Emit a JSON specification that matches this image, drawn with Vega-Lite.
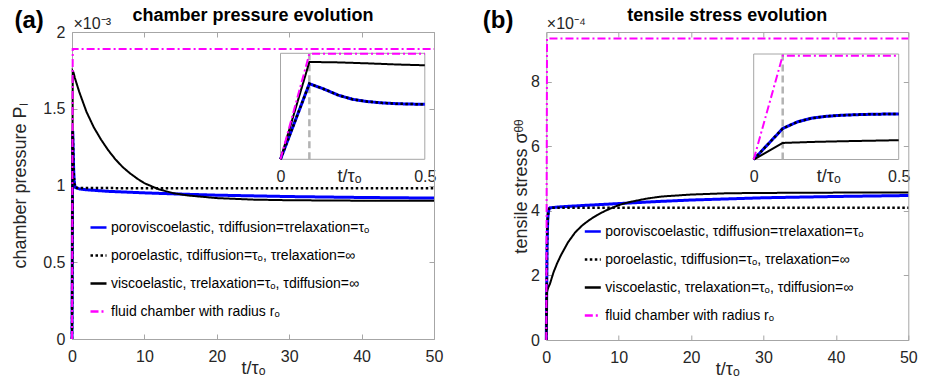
{
  "$schema": "https://vega.github.io/schema/vega-lite/v6.json",
  "padding": {"left": 11, "top": 7, "right": 0, "bottom": 0},
  "background": "white",
  "config": {
    "font": "Liberation Sans",
    "view": {"stroke": null},
    "axis": {
      "grid": false,
      "domainColor": "#a6a6a6",
      "tickColor": "#a6a6a6",
      "tickSize": -5,
      "labelColor": "#262626",
      "labelFontSize": 16,
      "labelFont": "Liberation Sans",
      "titleFont": "Liberation Sans",
      "titleFontWeight": "normal",
      "titleColor": "#262626",
      "titleFontSize": 18,
      "labelFlush": false,
      "labelOverlap": false,
      "format": "~r"
    },
    "legend": {
      "orient": "none",
      "title": null,
      "symbolType": "stroke",
      "symbolSize": 256,
      "symbolStrokeWidth": 2.5,
      "labelFont": "Liberation Sans",
      "labelFontSize": 14,
      "labelColor": "#000000",
      "labelOffset": 3,
      "rowPadding": 11,
      "padding": 0,
      "labelLimit": 500
    },
    "title": {"font": "Liberation Sans", "fontSize": 18, "fontWeight": "bold", "color": "#000000"}
  },
  "datasets": {
    "a": [
      {"s": "pve", "t": 0, "v": 0}, {"s": "pve", "t": 0.1, "v": 1.355}, {"s": "pve", "t": 0.15, "v": 1.26}, {"s": "pve", "t": 0.2, "v": 1.15}, {"s": "pve", "t": 0.25, "v": 1.075}, {"s": "pve", "t": 0.3, "v": 1.035}, {"s": "pve", "t": 0.35, "v": 1.012}, {"s": "pve", "t": 0.4, "v": 0.997}, {"s": "pve", "t": 0.45, "v": 0.99}, {"s": "pve", "t": 0.5, "v": 0.986}, {"s": "pve", "t": 1, "v": 0.978}, {"s": "pve", "t": 2, "v": 0.972}, {"s": "pve", "t": 5, "v": 0.962}, {"s": "pve", "t": 10, "v": 0.952}, {"s": "pve", "t": 15, "v": 0.944}, {"s": "pve", "t": 20, "v": 0.937}, {"s": "pve", "t": 30, "v": 0.928}, {"s": "pve", "t": 40, "v": 0.922}, {"s": "pve", "t": 50, "v": 0.918},
      {"s": "pe", "t": 0, "v": 0}, {"s": "pe", "t": 0.1, "v": 1.355}, {"s": "pe", "t": 0.15, "v": 1.26}, {"s": "pe", "t": 0.2, "v": 1.15}, {"s": "pe", "t": 0.25, "v": 1.075}, {"s": "pe", "t": 0.3, "v": 1.035}, {"s": "pe", "t": 0.35, "v": 1.012}, {"s": "pe", "t": 0.4, "v": 0.997}, {"s": "pe", "t": 0.45, "v": 0.99}, {"s": "pe", "t": 0.5, "v": 0.986}, {"s": "pe", "t": 1, "v": 0.983}, {"s": "pe", "t": 50, "v": 0.982},
      {"s": "ve", "t": 0, "v": 0}, {"s": "ve", "t": 0.1, "v": 1.745}, {"s": "ve", "t": 0.2, "v": 1.737}, {"s": "ve", "t": 0.3, "v": 1.72}, {"s": "ve", "t": 0.4, "v": 1.70}, {"s": "ve", "t": 0.5, "v": 1.685}, {"s": "ve", "t": 1, "v": 1.61}, {"s": "ve", "t": 2, "v": 1.48}, {"s": "ve", "t": 3, "v": 1.38}, {"s": "ve", "t": 4, "v": 1.30}, {"s": "ve", "t": 5, "v": 1.23}, {"s": "ve", "t": 6, "v": 1.17}, {"s": "ve", "t": 7, "v": 1.12}, {"s": "ve", "t": 8, "v": 1.08}, {"s": "ve", "t": 9, "v": 1.045}, {"s": "ve", "t": 10, "v": 1.015}, {"s": "ve", "t": 12, "v": 0.975}, {"s": "ve", "t": 14, "v": 0.95}, {"s": "ve", "t": 16, "v": 0.935}, {"s": "ve", "t": 20, "v": 0.918}, {"s": "ve", "t": 25, "v": 0.908}, {"s": "ve", "t": 30, "v": 0.904}, {"s": "ve", "t": 40, "v": 0.901}, {"s": "ve", "t": 50, "v": 0.9},
      {"s": "fc", "t": 0, "v": 0}, {"s": "fc", "t": 0.1, "v": 1.89}, {"s": "fc", "t": 0.5, "v": 1.89}, {"s": "fc", "t": 50, "v": 1.89}
    ],
    "b": [
      {"s": "pve", "t": 0, "v": 0}, {"s": "pve", "t": 0.1, "v": 2.79}, {"s": "pve", "t": 0.15, "v": 3.38}, {"s": "pve", "t": 0.2, "v": 3.72}, {"s": "pve", "t": 0.25, "v": 3.89}, {"s": "pve", "t": 0.3, "v": 3.98}, {"s": "pve", "t": 0.35, "v": 4.03}, {"s": "pve", "t": 0.4, "v": 4.07}, {"s": "pve", "t": 0.45, "v": 4.09}, {"s": "pve", "t": 0.5, "v": 4.10}, {"s": "pve", "t": 1, "v": 4.11}, {"s": "pve", "t": 2, "v": 4.13}, {"s": "pve", "t": 5, "v": 4.17}, {"s": "pve", "t": 10, "v": 4.23}, {"s": "pve", "t": 15, "v": 4.29}, {"s": "pve", "t": 20, "v": 4.34}, {"s": "pve", "t": 30, "v": 4.41}, {"s": "pve", "t": 40, "v": 4.45}, {"s": "pve", "t": 50, "v": 4.48},
      {"s": "pe", "t": 0, "v": 0}, {"s": "pe", "t": 0.1, "v": 2.79}, {"s": "pe", "t": 0.15, "v": 3.38}, {"s": "pe", "t": 0.2, "v": 3.72}, {"s": "pe", "t": 0.25, "v": 3.89}, {"s": "pe", "t": 0.3, "v": 3.98}, {"s": "pe", "t": 0.35, "v": 4.03}, {"s": "pe", "t": 0.4, "v": 4.07}, {"s": "pe", "t": 0.45, "v": 4.09}, {"s": "pe", "t": 0.5, "v": 4.10}, {"s": "pe", "t": 1, "v": 4.10}, {"s": "pe", "t": 50, "v": 4.10},
      {"s": "ve", "t": 0, "v": 0}, {"s": "ve", "t": 0.1, "v": 1.49}, {"s": "ve", "t": 0.2, "v": 1.58}, {"s": "ve", "t": 0.3, "v": 1.64}, {"s": "ve", "t": 0.4, "v": 1.69}, {"s": "ve", "t": 0.5, "v": 1.74}, {"s": "ve", "t": 1, "v": 2.1}, {"s": "ve", "t": 1.5, "v": 2.38}, {"s": "ve", "t": 2, "v": 2.62}, {"s": "ve", "t": 3, "v": 3.03}, {"s": "ve", "t": 4, "v": 3.34}, {"s": "ve", "t": 5, "v": 3.56}, {"s": "ve", "t": 6, "v": 3.73}, {"s": "ve", "t": 7, "v": 3.87}, {"s": "ve", "t": 8, "v": 3.99}, {"s": "ve", "t": 9, "v": 4.09}, {"s": "ve", "t": 10, "v": 4.18}, {"s": "ve", "t": 11, "v": 4.25}, {"s": "ve", "t": 12, "v": 4.30}, {"s": "ve", "t": 14, "v": 4.39}, {"s": "ve", "t": 16, "v": 4.45}, {"s": "ve", "t": 20, "v": 4.51}, {"s": "ve", "t": 25, "v": 4.55}, {"s": "ve", "t": 30, "v": 4.56}, {"s": "ve", "t": 40, "v": 4.57}, {"s": "ve", "t": 50, "v": 4.57},
      {"s": "fc", "t": 0, "v": 0}, {"s": "fc", "t": 0.1, "v": 9.35}, {"s": "fc", "t": 0.5, "v": 9.35}, {"s": "fc", "t": 50, "v": 9.35}
    ]
  },
  "bounds": "flush",
  "spacing": 112.3,
  "resolve": {
    "scale": {"color": "independent", "strokeDash": "independent"},
    "legend": {"color": "independent", "strokeDash": "independent"}
  },
  "hconcat": [
    {
      "width": 362,
      "height": 307,
      "data": {"name": "a"},
      "title": {"text": "chamber pressure evolution", "anchor": "middle", "frame": "group", "offset": -17},
      "layer": [
        {
          "layer": [
            {
              "transform": [{"filter": "datum.s != 'fc'"}],
              "mark": {"type": "line", "clip": false},
              "encoding": {
                "x": {"field": "t", "type": "quantitative", "scale": {"domain": [0, 50], "nice": false},
                  "axis": {"orient": "bottom", "values": [0, 10, 20, 30, 40, 50], "labelPadding": 14, "title": "t/τₒ", "titleY": 34, "titleBaseline": "alphabetic"}},
                "y": {"field": "v", "type": "quantitative", "scale": {"domain": [0, 2], "nice": false},
                  "axis": {"orient": "left", "values": [0, 0.5, 1, 1.5, 2], "labelPadding": 12, "title": "chamber pressure Pₗ", "titleX": -47, "titleBaseline": "alphabetic"}},
                "color": {"field": "s", "type": "nominal", "scale": {"domain": ["pve", "pe", "ve", "fc"], "range": ["#0000ff", "#000000", "#000000", "#ff00ff"]}, "legend": {"legendX": 17, "legendY": 186, "labelExpr": "datum.label == 'pve' ? 'poroviscoelastic, τdiffusion=τrelaxation=τₒ' : datum.label == 'pe' ? 'poroelastic, τdiffusion=τₒ, τrelaxation=∞' : datum.label == 've' ? 'viscoelastic, τrelaxation=τₒ, τdiffusion=∞' : 'fluid chamber with  radius rₒ'"}},
                "strokeDash": {"field": "s", "type": "nominal", "scale": {"domain": ["pve", "pe", "ve", "fc"], "range": [[1, 0], [2.5, 2.5], [1, 0], [8, 3, 2, 3]]}, "legend": {"legendX": 17, "legendY": 186, "labelExpr": "datum.label == 'pve' ? 'poroviscoelastic, τdiffusion=τrelaxation=τₒ' : datum.label == 'pe' ? 'poroelastic, τdiffusion=τₒ, τrelaxation=∞' : datum.label == 've' ? 'viscoelastic, τrelaxation=τₒ, τdiffusion=∞' : 'fluid chamber with  radius rₒ'"}},
                "strokeWidth": {"condition": [{"test": "datum.s == 'pve'", "value": 3}, {"test": "datum.s == 'pe'", "value": 2.5}], "value": 2},
                "order": {"field": "t", "type": "quantitative"}
              }
            },
            {
              "transform": [{"filter": "datum.s == 'fc'"}],
              "mark": {"type": "line", "clip": false},
              "encoding": {
                "x": {"field": "t", "type": "quantitative", "scale": {"domain": [0, 50], "nice": false},
                  "axis": {"orient": "top", "values": [0, 10, 20, 30, 40, 50], "labels": false, "title": "×10⁻³", "titleX": 1, "titleY": -4, "titleAlign": "left", "titleBaseline": "alphabetic", "titleFontSize": 16, "titleAngle": 0}},
                "y": {"field": "v", "type": "quantitative", "scale": {"domain": [0, 2], "nice": false},
                  "axis": {"orient": "right", "values": [0, 0.5, 1, 1.5, 2], "labels": false, "title": "(a)", "titleAngle": 0, "titleX": -420, "titleY": -5, "titleAlign": "left", "titleBaseline": "alphabetic", "titleFontSize": 24, "titleFontWeight": "bold", "titleColor": "#000000"}},
                "color": {"field": "s", "type": "nominal", "scale": {"domain": ["pve", "pe", "ve", "fc"], "range": ["#0000ff", "#000000", "#000000", "#ff00ff"]}, "legend": {"legendX": 17, "legendY": 186, "labelExpr": "datum.label == 'pve' ? 'poroviscoelastic, τdiffusion=τrelaxation=τₒ' : datum.label == 'pe' ? 'poroelastic, τdiffusion=τₒ, τrelaxation=∞' : datum.label == 've' ? 'viscoelastic, τrelaxation=τₒ, τdiffusion=∞' : 'fluid chamber with  radius rₒ'"}},
                "strokeDash": {"field": "s", "type": "nominal", "scale": {"domain": ["pve", "pe", "ve", "fc"], "range": [[1, 0], [2.5, 2.5], [1, 0], [8, 3, 2, 3]]}, "legend": {"legendX": 17, "legendY": 186, "labelExpr": "datum.label == 'pve' ? 'poroviscoelastic, τdiffusion=τrelaxation=τₒ' : datum.label == 'pe' ? 'poroelastic, τdiffusion=τₒ, τrelaxation=∞' : datum.label == 've' ? 'viscoelastic, τrelaxation=τₒ, τdiffusion=∞' : 'fluid chamber with  radius rₒ'"}},
                "strokeWidth": {"value": 2},
                "order": {"field": "t", "type": "quantitative"}
              }
            }
          ],
          "resolve": {"axis": {"x": "independent", "y": "independent"}}
        },
        {
          "layer": [
            {
              "data": {"values": [{}]},
              "mark": {"type": "rect", "fill": "white", "stroke": "#a6a6a6", "strokeWidth": 1},
              "encoding": {
                "x": {"datum": 0, "type": "quantitative", "scale": {"domain": [0, 0.5], "nice": false, "range": [208.5, 352.8]},
                  "axis": {"orient": "bottom", "offset": -179.7, "values": [0, 0.5], "ticks": false, "tickSize": 0, "domain": false, "labelPadding": 9, "title": "t/τₒ", "titleY": 22, "titleX": 277, "titleBaseline": "alphabetic"}},
                "x2": {"datum": 0.5},
                "y": {"datum": 0, "type": "quantitative", "scale": {"domain": [0, 1.9], "nice": false, "range": [127.3, 21.3]}, "axis": null},
                "y2": {"datum": 1.9}
              }
            },
            {
              "data": {"values": [{}]},
              "mark": {"type": "rule", "color": "#b3b3b3", "strokeWidth": 2.5, "strokeDash": [7, 4]},
              "encoding": {
                "x": {"datum": 0.1, "type": "quantitative"},
                "y": {"datum": 0, "type": "quantitative"},
                "y2": {"datum": 1.9}
              }
            },
            {
              "transform": [{"filter": "datum.t <= 0.5"}],
              "mark": {"type": "line", "clip": false},
              "encoding": {
                "x": {"field": "t", "type": "quantitative"},
                "y": {"field": "v", "type": "quantitative"},
                "color": {"field": "s", "type": "nominal", "scale": {"domain": ["pve", "pe", "ve", "fc"], "range": ["#0000ff", "#000000", "#000000", "#ff00ff"]}, "legend": {"legendX": 17, "legendY": 186, "labelExpr": "datum.label == 'pve' ? 'poroviscoelastic, τdiffusion=τrelaxation=τₒ' : datum.label == 'pe' ? 'poroelastic, τdiffusion=τₒ, τrelaxation=∞' : datum.label == 've' ? 'viscoelastic, τrelaxation=τₒ, τdiffusion=∞' : 'fluid chamber with  radius rₒ'"}},
                "strokeDash": {"field": "s", "type": "nominal", "scale": {"domain": ["pve", "pe", "ve", "fc"], "range": [[1, 0], [2.5, 2.5], [1, 0], [8, 3, 2, 3]]}, "legend": {"legendX": 17, "legendY": 186, "labelExpr": "datum.label == 'pve' ? 'poroviscoelastic, τdiffusion=τrelaxation=τₒ' : datum.label == 'pe' ? 'poroelastic, τdiffusion=τₒ, τrelaxation=∞' : datum.label == 've' ? 'viscoelastic, τrelaxation=τₒ, τdiffusion=∞' : 'fluid chamber with  radius rₒ'"}},
                "strokeWidth": {"condition": [{"test": "datum.s == 'pve'", "value": 3}, {"test": "datum.s == 'pe'", "value": 2.5}], "value": 2},
                "order": {"field": "t", "type": "quantitative"}
              }
            }
          ]
        }
      ],
      "resolve": {"scale": {"x": "independent", "y": "independent"}, "axis": {"x": "independent", "y": "independent"}}
    },
    {
      "width": 362,
      "height": 308,
      "data": {"name": "b"},
      "title": {"text": "tensile stress evolution", "anchor": "middle", "frame": "group", "offset": -17},
      "layer": [
        {
          "layer": [
            {
              "transform": [{"filter": "datum.s != 'fc'"}],
              "mark": {"type": "line", "clip": false},
              "encoding": {
                "x": {"field": "t", "type": "quantitative", "scale": {"domain": [0, 50], "nice": false},
                  "axis": {"orient": "bottom", "values": [0, 10, 20, 30, 40, 50], "labelPadding": 14, "title": "t/τₒ", "titleY": 34, "titleBaseline": "alphabetic"}},
                "y": {"field": "v", "type": "quantitative", "scale": {"domain": [0, 9.55], "nice": false},
                  "axis": {"orient": "left", "values": [0, 2, 4, 6, 8], "labelPadding": 12, "title": "tensile stress σᶿᶿ", "titleX": -20, "titleBaseline": "alphabetic"}},
                "color": {"field": "s", "type": "nominal", "scale": {"domain": ["pve", "pe", "ve", "fc"], "range": ["#0000ff", "#000000", "#000000", "#ff00ff"]}, "legend": {"legendX": 37, "legendY": 190, "labelExpr": "datum.label == 'pve' ? 'poroviscoelastic, τdiffusion=τrelaxation=τₒ' : datum.label == 'pe' ? 'poroelastic, τdiffusion=τₒ, τrelaxation=∞' : datum.label == 've' ? 'viscoelastic, τrelaxation=τₒ, τdiffusion=∞' : 'fluid chamber with  radius rₒ'"}},
                "strokeDash": {"field": "s", "type": "nominal", "scale": {"domain": ["pve", "pe", "ve", "fc"], "range": [[1, 0], [2.5, 2.5], [1, 0], [8, 3, 2, 3]]}, "legend": {"legendX": 37, "legendY": 190, "labelExpr": "datum.label == 'pve' ? 'poroviscoelastic, τdiffusion=τrelaxation=τₒ' : datum.label == 'pe' ? 'poroelastic, τdiffusion=τₒ, τrelaxation=∞' : datum.label == 've' ? 'viscoelastic, τrelaxation=τₒ, τdiffusion=∞' : 'fluid chamber with  radius rₒ'"}},
                "strokeWidth": {"condition": [{"test": "datum.s == 'pve'", "value": 3}, {"test": "datum.s == 'pe'", "value": 2.5}], "value": 2},
                "order": {"field": "t", "type": "quantitative"}
              }
            },
            {
              "transform": [{"filter": "datum.s == 'fc'"}],
              "mark": {"type": "line", "clip": false},
              "encoding": {
                "x": {"field": "t", "type": "quantitative", "scale": {"domain": [0, 50], "nice": false},
                  "axis": {"orient": "top", "values": [0, 10, 20, 30, 40, 50], "labels": false, "title": "×10⁻⁴", "titleX": 0, "titleY": -4, "titleAlign": "left", "titleBaseline": "alphabetic", "titleFontSize": 16, "titleAngle": 0}},
                "y": {"field": "v", "type": "quantitative", "scale": {"domain": [0, 9.55], "nice": false},
                  "axis": {"orient": "right", "values": [0, 2, 4, 6, 8], "labels": false, "title": "(b)", "titleAngle": 0, "titleX": -426, "titleY": -5, "titleAlign": "left", "titleBaseline": "alphabetic", "titleFontSize": 24, "titleFontWeight": "bold", "titleColor": "#000000"}},
                "color": {"field": "s", "type": "nominal", "scale": {"domain": ["pve", "pe", "ve", "fc"], "range": ["#0000ff", "#000000", "#000000", "#ff00ff"]}, "legend": {"legendX": 37, "legendY": 190, "labelExpr": "datum.label == 'pve' ? 'poroviscoelastic, τdiffusion=τrelaxation=τₒ' : datum.label == 'pe' ? 'poroelastic, τdiffusion=τₒ, τrelaxation=∞' : datum.label == 've' ? 'viscoelastic, τrelaxation=τₒ, τdiffusion=∞' : 'fluid chamber with  radius rₒ'"}},
                "strokeDash": {"field": "s", "type": "nominal", "scale": {"domain": ["pve", "pe", "ve", "fc"], "range": [[1, 0], [2.5, 2.5], [1, 0], [8, 3, 2, 3]]}, "legend": {"legendX": 37, "legendY": 190, "labelExpr": "datum.label == 'pve' ? 'poroviscoelastic, τdiffusion=τrelaxation=τₒ' : datum.label == 'pe' ? 'poroelastic, τdiffusion=τₒ, τrelaxation=∞' : datum.label == 've' ? 'viscoelastic, τrelaxation=τₒ, τdiffusion=∞' : 'fluid chamber with  radius rₒ'"}},
                "strokeWidth": {"value": 2},
                "order": {"field": "t", "type": "quantitative"}
              }
            }
          ],
          "resolve": {"axis": {"x": "independent", "y": "independent"}}
        },
        {
          "layer": [
            {
              "data": {"values": [{}]},
              "mark": {"type": "rect", "fill": "white", "stroke": "#a6a6a6", "strokeWidth": 1},
              "encoding": {
                "x": {"datum": 0, "type": "quantitative", "scale": {"domain": [0, 0.5], "nice": false, "range": [207.4, 352.4]},
                  "axis": {"orient": "bottom", "offset": -180.5, "values": [0, 0.5], "ticks": false, "tickSize": 0, "domain": false, "labelPadding": 9, "title": "t/τₒ", "titleY": 22, "titleX": 282, "titleBaseline": "alphabetic"}},
                "x2": {"datum": 0.5},
                "y": {"datum": 0, "type": "quantitative", "scale": {"domain": [0, 9.5], "nice": false, "range": [127.5, 22]}, "axis": null},
                "y2": {"datum": 9.5}
              }
            },
            {
              "data": {"values": [{}]},
              "mark": {"type": "rule", "color": "#b3b3b3", "strokeWidth": 2.5, "strokeDash": [7, 4]},
              "encoding": {
                "x": {"datum": 0.1, "type": "quantitative"},
                "y": {"datum": 0, "type": "quantitative"},
                "y2": {"datum": 9.5}
              }
            },
            {
              "transform": [{"filter": "datum.t <= 0.5"}],
              "mark": {"type": "line", "clip": false},
              "encoding": {
                "x": {"field": "t", "type": "quantitative"},
                "y": {"field": "v", "type": "quantitative"},
                "color": {"field": "s", "type": "nominal", "scale": {"domain": ["pve", "pe", "ve", "fc"], "range": ["#0000ff", "#000000", "#000000", "#ff00ff"]}, "legend": {"legendX": 37, "legendY": 190, "labelExpr": "datum.label == 'pve' ? 'poroviscoelastic, τdiffusion=τrelaxation=τₒ' : datum.label == 'pe' ? 'poroelastic, τdiffusion=τₒ, τrelaxation=∞' : datum.label == 've' ? 'viscoelastic, τrelaxation=τₒ, τdiffusion=∞' : 'fluid chamber with  radius rₒ'"}},
                "strokeDash": {"field": "s", "type": "nominal", "scale": {"domain": ["pve", "pe", "ve", "fc"], "range": [[1, 0], [2.5, 2.5], [1, 0], [8, 3, 2, 3]]}, "legend": {"legendX": 37, "legendY": 190, "labelExpr": "datum.label == 'pve' ? 'poroviscoelastic, τdiffusion=τrelaxation=τₒ' : datum.label == 'pe' ? 'poroelastic, τdiffusion=τₒ, τrelaxation=∞' : datum.label == 've' ? 'viscoelastic, τrelaxation=τₒ, τdiffusion=∞' : 'fluid chamber with  radius rₒ'"}},
                "strokeWidth": {"condition": [{"test": "datum.s == 'pve'", "value": 3}, {"test": "datum.s == 'pe'", "value": 2.5}], "value": 2},
                "order": {"field": "t", "type": "quantitative"}
              }
            }
          ]
        }
      ],
      "resolve": {"scale": {"x": "independent", "y": "independent"}, "axis": {"x": "independent", "y": "independent"}}
    }
  ]
}
